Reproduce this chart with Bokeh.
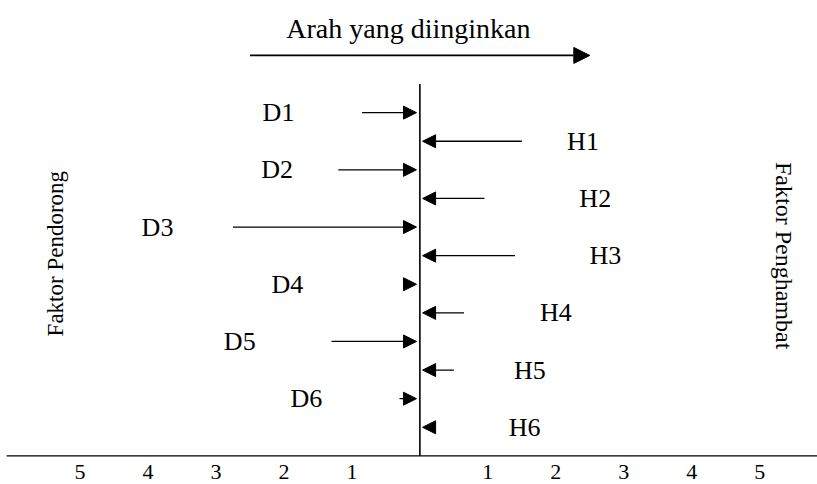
from bokeh.plotting import figure
from bokeh.models import Range1d, Arrow, NormalHead, ColumnDataSource
from bokeh.core.properties import value
from bokeh.embed import file_html
from bokeh.resources import INLINE

# ---- data ----
driver_labels = ["D1", "D2", "D3", "D4", "D5", "D6"]
driver_values = [0.85, 1.2, 2.75, 0.22, 1.3, 0.3]
inhibitor_labels = ["H1", "H2", "H3", "H4", "H5", "H6"]
inhibitor_values = [1.5, 0.95, 1.4, 0.65, 0.5, 0.2]
tick_values = [-5, -4, -3, -2, -1, 1, 2, 3, 4, 5]
tick_labels = ["5", "4", "3", "2", "1", "1", "2", "3", "4", "5"]
title_text = "Arah yang diinginkan"
left_text = "Faktor Pendorong"
right_text = "Faktor Penghambat"

# label placement (x in scale units)
driver_label_x = [-2.08, -2.1, -3.86, -1.95, -2.65, -1.67]
inhibitor_label_x = [2.4, 2.58, 2.73, 2.0, 1.62, 1.54]

FONT = value("Liberation Serif")

X0, X1 = -6.17, 5.85
W, H = 817, 484
p = figure(width=W, height=H, output_backend="svg", toolbar_location=None,
           x_range=Range1d(X0, X1), y_range=Range1d(13.0, -3.92),
           min_border=0)
p.axis.visible = False
p.grid.visible = False
p.outline_line_color = None
p.background_fill_color = "white"
p.border_fill_color = "white"

n = len(driver_labels)
d_rows = [2 * i for i in range(n)]
h_rows = [2 * i + 1 for i in range(n)]
base_row = 2 * n

# central line and baseline
p.segment(x0=[0], y0=[-1], x1=[0], y1=[base_row], line_color="black", line_width=1.6)
p.segment(x0=[-6.08], y0=[base_row], x1=[X1], y1=[base_row], line_color="black", line_width=1.4)

# driver arrows
d_src = ColumnDataSource(dict(xs=[-v for v in driver_values], xe=[-0.05] * n, y=d_rows))
p.add_layout(Arrow(x_start="xs", y_start="y", x_end="xe", y_end="y", source=d_src,
                   line_color="black", line_width=1.3,
                   end=NormalHead(size=13, fill_color="black", line_color="black", line_width=1)))
# inhibitor arrows
h_src = ColumnDataSource(dict(xs=inhibitor_values, xe=[0.04] * n, y=h_rows))
p.add_layout(Arrow(x_start="xs", y_start="y", x_end="xe", y_end="y", source=h_src,
                   line_color="black", line_width=1.3,
                   end=NormalHead(size=13, fill_color="black", line_color="black", line_width=1)))

# factor labels
p.text(x=driver_label_x, y=d_rows, text=driver_labels, text_font=FONT, text_font_size="26px",
       text_align="center", text_baseline="middle", text_color="black")
p.text(x=inhibitor_label_x, y=h_rows, text=inhibitor_labels, text_font=FONT, text_font_size="26px",
       text_align="center", text_baseline="middle", text_color="black")

# scale tick labels
p.text(x=tick_values, y=[base_row + 0.55] * len(tick_values), text=tick_labels, text_font=FONT,
       text_font_size="22px", text_align="center", text_baseline="middle", text_color="black")

# desired direction arrow and title
p.add_layout(Arrow(x_start=-2.5, y_start=-2, x_end=2.5, y_end=-2, line_color="black", line_width=1.6,
                   end=NormalHead(size=16, fill_color="black", line_color="black", line_width=1)))
p.text(x=[-0.17], y=[-2.95], text=[title_text], text_font=FONT, text_font_size="28px",
       text_align="center", text_baseline="middle", text_color="black")

# side labels
p.text(x=[-5.36], y=[4.93], text=[left_text], text_font=FONT, text_font_size="23px", angle=1.5708,
       text_align="center", text_baseline="middle", text_color="black")
p.text(x=[5.35], y=[5.0], text=[right_text], text_font=FONT, text_font_size="24px", angle=-1.5708,
       text_align="center", text_baseline="middle", text_color="black")

open("out.html", "w").write(file_html(p, INLINE))
